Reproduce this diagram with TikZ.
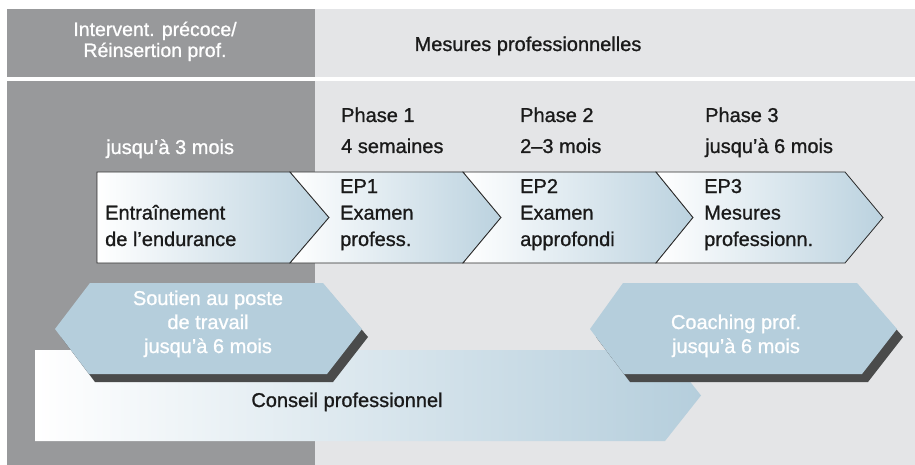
\documentclass[tikz,border=0pt]{standalone}
\usepackage{fontspec}
\setmainfont{Liberation Sans}[FakeBold=1]
\definecolor{dgrey}{HTML}{98999B}
\definecolor{lgrey}{HTML}{E4E5E7}
\definecolor{hexblue}{HTML}{B5CEDC}
\definecolor{chevblue}{HTML}{BBD2DF}
\definecolor{shadowc}{HTML}{4A4B4B}
\definecolor{edgec}{HTML}{2A2A2A}
\definecolor{txt}{HTML}{1A1A1A}
\begin{document}
\begin{tikzpicture}[x=1pt,y=-1pt,
  chev/.style={left color=white, right color=chevblue, draw=edgec, line width=0.8pt, line join=miter},
  hexa/.style={fill=hexblue},
  hexshadow/.style={fill=shadowc},
  hdrw/.style={text=white, font={\fontsize{19.5}{21}\selectfont\lineskiplimit=-20pt}, inner sep=0pt},
  hdrb/.style={text=txt, font={\fontsize{20}{19}\selectfont}, inner sep=0pt},
  phase/.style={text=txt, font={\fontsize{20}{31}\selectfont}, inner sep=0pt, align=left, anchor=base west},
  chevtext/.style={text=txt, font={\fontsize{20}{26.5}\selectfont\lineskiplimit=-20pt}, inner sep=0pt, align=left, anchor=base west},
  hextext/.style={text=white, font={\fontsize{20}{24}\selectfont\lineskiplimit=-20pt}, inner sep=0pt, align=center, anchor=base}
]
\useasboundingbox (0,0) rectangle (915,465);
% backgrounds
\fill[dgrey] (7,9) rectangle (315,77);
\fill[lgrey] (315,9) rectangle (915,77);
\fill[dgrey] (7,81) rectangle (315,465);
\fill[lgrey] (315,81) rectangle (915,465);

% header texts
\node[hdrw, align=center, anchor=base] (hleft) at (155,57) {Intervent. précoce/\\Réinsertion prof.};
\node[hdrb, anchor=base] (hright) at (528,51) {Mesures professionnelles};

% phase texts
\node[phase, text=white] (p0) at (106,154) {jusqu’à 3 mois};
\node[phase] (p1) at (341,153) {Phase 1\\4 semaines};
\node[phase] (p2) at (520,153) {Phase 2\\2–3 mois};
\node[phase] (p3) at (705,153) {Phase 3\\jusqu’à 6 mois};

% chevrons
\path[chev] (97,172) -- (290,172) -- (329,217.5) -- (290,263) -- (97,263) -- cycle;
\path[chev] (290,172) -- (463,172) -- (501,217.5) -- (463,263) -- (290,263) -- (329,217.5) -- cycle;
\path[chev] (463,172) -- (656,172) -- (693,217.5) -- (656,263) -- (463,263) -- (501,217.5) -- cycle;
\path[chev] (656,172) -- (845,172) -- (883,217.5) -- (845,263) -- (656,263) -- (693,217.5) -- cycle;

\node[chevtext] (c0) at (105,246) {Entraînement\\de l’endurance};
\node[chevtext] (c1) at (340,246) {EP1\\Examen\\profess.};
\node[chevtext] (c2) at (520,246) {EP2\\Examen\\approfondi};
\node[chevtext] (c3) at (704,246) {EP3\\Mesures\\professionn.};

% conseil professionnel arrow
\path[left color=white, right color=hexblue] (35,350) -- (665,350) -- (701,395.5) -- (665,441) -- (35,441) -- cycle;
\node[text=txt, font={\fontsize{20}{24}\selectfont}, inner sep=0pt, anchor=base] (conseil) at (347,407) {Conseil professionnel};

% soutien hexagon
\fill[hexshadow, shift={(6,8)}] (55,329) -- (90,283) -- (323,283) -- (362,329) -- (327,374) -- (89,374) -- cycle;
\fill[hexa] (55,329) -- (90,283) -- (323,283) -- (362,329) -- (327,374) -- (89,374) -- cycle;
\node[hextext] (soutien) at (208,353) {Soutien au poste\\de travail\\jusqu’à 6 mois};

% coaching hexagon
\fill[hexshadow, shift={(6,8)}] (590,329) -- (623,283) -- (857,283) -- (897,329) -- (862,374) -- (624,374) -- cycle;
\fill[hexa] (590,329) -- (623,283) -- (857,283) -- (897,329) -- (862,374) -- (624,374) -- cycle;
\node[hextext] (coaching) at (736,353) {Coaching prof.\\jusqu’à 6 mois};
\end{tikzpicture}
\end{document}
